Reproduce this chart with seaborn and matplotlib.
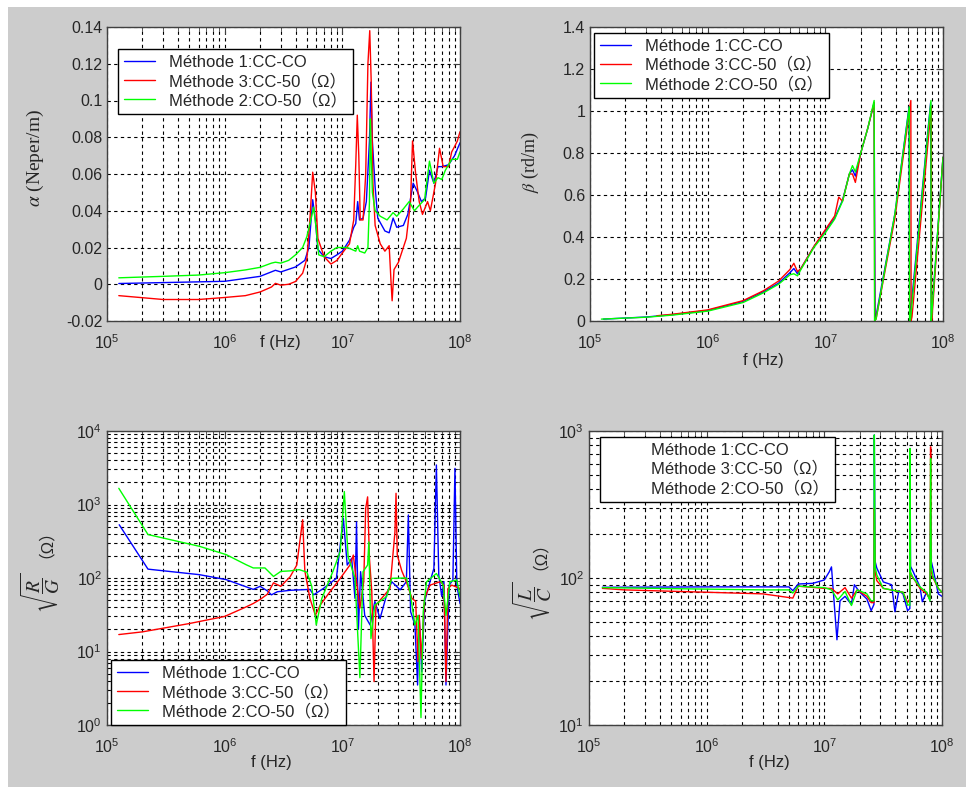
import numpy as np
import pandas as pd
import seaborn as sns
import matplotlib.pyplot as plt
from matplotlib.patches import Rectangle
from matplotlib.ticker import FuncFormatter, LogLocator, MultipleLocator

# method names (legend order)
m1 = "Méthode 1:CC-CO"
m3 = "Méthode 3:CC-50（Ω）"
m2 = "Méthode 2:CO-50（Ω）"
methods = [m1, m3, m2]
colors = {m1: "#0000ff", m3: "#ff0000", m2: "#00ff00"}

# ---- alpha (Neper/m) ----
alpha_f_m1 = [1.26e5, 1e6, 2e6, 2.7e6, 3e6, 4e6, 4.8e6, 5.2e6, 5.6e6, 5.9e6, 6.2e6, 7e6, 8e6, 9e6, 1e7,
              1.15e7, 1.25e7, 1.3e7, 1.35e7, 1.4e7, 1.5e7, 1.6e7, 1.7e7, 1.75e7, 1.8e7, 1.9e7, 2e7, 2.3e7,
              2.5e7, 2.7e7, 2.9e7, 3.3e7, 3.6e7, 4e7, 4.3e7, 4.7e7, 5.1e7, 5.5e7, 6e7, 6.5e7, 7e7, 8e7,
              9e7, 1e8]
alpha_v_m1 = [0.0004, 0.0016, 0.0043, 0.0076, 0.0067, 0.0094, 0.013, 0.020, 0.046, 0.035, 0.019, 0.015,
              0.014, 0.016, 0.018, 0.024, 0.031, 0.033, 0.045, 0.035, 0.036, 0.045, 0.078, 0.110, 0.078,
              0.053, 0.036, 0.029, 0.028, 0.036, 0.031, 0.032, 0.038, 0.055, 0.051, 0.045, 0.047, 0.062,
              0.055, 0.064, 0.064, 0.065, 0.070, 0.077]
alpha_f_m3 = [1.26e5, 3e5, 6e5, 1e6, 1.5e6, 2e6, 2.5e6, 2.7e6, 3e6, 3.5e6, 4e6, 4.6e6, 5e6, 5.3e6, 5.6e6,
              5.9e6, 6.2e6, 7e6, 8e6, 9e6, 1e7, 1.15e7, 1.25e7, 1.3e7, 1.34e7, 1.38e7, 1.42e7, 1.5e7,
              1.58e7, 1.65e7, 1.71e7, 1.76e7, 1.82e7, 1.9e7, 2.1e7, 2.3e7, 2.5e7, 2.6e7, 2.65e7, 2.75e7,
              3e7, 3.5e7, 3.8e7, 3.95e7, 4.2e7, 4.5e7, 4.8e7, 5.3e7, 5.6e7, 6.2e7, 6.7e7, 7.2e7, 8e7,
              8.5e7, 9e7, 9.5e7, 1e8]
alpha_v_m3 = [-0.0062, -0.0083, -0.0083, -0.0072, -0.0062, -0.0042, -0.0015, 0.0005, -0.0005, 0.0,
              0.0015, 0.006, 0.014, 0.035, 0.061, 0.050, 0.025, 0.015, 0.011, 0.013, 0.017, 0.022, 0.035,
              0.065, 0.092, 0.070, 0.035, 0.035, 0.060, 0.120, 0.138, 0.110, 0.055, 0.032, 0.022, 0.018,
              0.021, 0.0, -0.009, 0.008, 0.012, 0.025, 0.045, 0.078, 0.060, 0.045, 0.038, 0.045, 0.040,
              0.055, 0.074, 0.064, 0.064, 0.072, 0.075, 0.078, 0.083]
alpha_f_m2 = [1.26e5, 3e5, 6e5, 1e6, 1.5e6, 2e6, 2.5e6, 2.7e6, 3e6, 3.5e6, 4e6, 4.6e6, 5e6, 5.4e6, 5.7e6,
              6e6, 6.3e6, 7e6, 8e6, 9e6, 1e7, 1.1e7, 1.2e7, 1.3e7, 1.35e7, 1.4e7, 1.55e7, 1.65e7, 1.7e7,
              1.73e7, 1.76e7, 1.8e7, 1.9e7, 2.1e7, 2.4e7, 2.7e7, 2.9e7, 3.3e7, 3.7e7, 4.1e7, 4.5e7, 5e7,
              5.5e7, 6e7, 6.5e7, 7e7, 7.5e7, 8e7, 8.5e7, 9.5e7, 1e8]
alpha_v_m2 = [0.0035, 0.0043, 0.005, 0.0063, 0.0078, 0.0092, 0.0115, 0.012, 0.0115, 0.013, 0.016, 0.020,
              0.026, 0.035, 0.042, 0.030, 0.016, 0.015, 0.018, 0.020, 0.020, 0.020, 0.019, 0.018, 0.021,
              0.018, 0.017, 0.020, 0.045, 0.090, 0.070, 0.050, 0.040, 0.037, 0.035, 0.039, 0.037, 0.041,
              0.045, 0.040, 0.043, 0.046, 0.067, 0.055, 0.058, 0.057, 0.062, 0.065, 0.068, 0.068, 0.072]

# ---- beta (rd/m) ----
beta_f_m1 = [1.3e5, 3e5, 5e5, 1e6, 2e6, 3e6, 4e6, 5e6, 5.4e6, 5.8e6, 6.2e6, 7e6, 8e6, 1e7, 1.2e7, 1.4e7,
             1.6e7, 1.7e7, 1.8e7, 2e7, 2.3e7, 2.6e7, 2.62e7, 2.65e7, 3.9e7, 5.15e7, 5.18e7, 5.22e7, 7.85e7,
             7.9e7, 7.95e7, 1e8]
beta_v_m1 = [0.009, 0.019, 0.03, 0.05, 0.093, 0.14, 0.18, 0.23, 0.25, 0.225, 0.25, 0.30, 0.354, 0.43,
             0.49, 0.575, 0.70, 0.72, 0.69, 0.80, 0.92, 1.04, 0.52, 0.0, 0.51, 1.02, 0.52, 0.0, 1.04, 0.52,
             0.0, 0.78]
beta_f_m3 = [3.7e5, 5e5, 1e6, 2e6, 3e6, 4e6, 5e6, 5.4e6, 5.8e6, 6.2e6, 7e6, 8e6, 1e7, 1.2e7, 1.3e7, 1.4e7,
             1.6e7, 1.7e7, 1.8e7, 2e7, 2.3e7, 2.6e7, 2.63e7, 2.7e7, 3.9e7, 5.33e7, 5.36e7, 5.45e7, 7.95e7,
             8.0e7, 8.1e7, 1e8]
beta_v_m3 = [0.025, 0.032, 0.053, 0.097, 0.145, 0.19, 0.245, 0.275, 0.235, 0.25, 0.30, 0.355, 0.435,
             0.50, 0.59, 0.57, 0.70, 0.70, 0.66, 0.80, 0.92, 1.04, 0.0, 0.01, 0.49, 1.05, 0.0, 0.02, 1.02,
             0.0, 0.03, 0.78]
beta_f_m2 = [1.25e5, 3e5, 5e5, 1e6, 2e6, 3e6, 4e6, 5e6, 5.4e6, 5.8e6, 6.2e6, 7e6, 8e6, 1e7, 1.2e7, 1.4e7,
             1.6e7, 1.7e7, 1.8e7, 2e7, 2.3e7, 2.6e7, 2.62e7, 2.7e7, 3.9e7, 5.17e7, 5.2e7, 5.3e7, 7.9e7,
             7.92e7, 8.0e7, 1e8]
beta_v_m2 = [0.009, 0.018, 0.028, 0.047, 0.088, 0.135, 0.175, 0.22, 0.225, 0.215, 0.245, 0.295, 0.35,
             0.42, 0.485, 0.57, 0.70, 0.74, 0.71, 0.80, 0.92, 1.05, 0.0, 0.01, 0.51, 1.02, 0.0, 0.01, 1.05,
             0.0, 0.02, 0.78]

# ---- sqrt(R/G) (Ohm) ----
rg_f_m1 = [1.27e5, 2.23e5, 6.1e5, 1.03e6, 1.75e6, 2e6, 2.3e6, 2.5e6, 2.8e6, 3.6e6, 5.3e6, 5.7e6, 6.9e6,
           8.9e6, 1.02e7, 1.1e7, 1.2e7, 1.28e7, 1.32e7, 1.37e7, 1.43e7, 1.55e7, 1.72e7, 1.89e7, 2.09e7,
           2.38e7, 2.63e7, 3.1e7, 3.5e7, 3.64e7, 3.8e7, 4.14e7, 4.36e7, 4.5e7, 4.73e7, 5.0e7, 5.56e7, 6.0e7,
           6.3e7, 6.6e7, 7.0e7, 7.3e7, 7.6e7, 8.1e7, 8.7e7, 9.06e7, 9.4e7, 1e8]
rg_v_m1 = [530, 132, 111, 95, 70, 77, 67, 59, 65, 68, 70, 59, 72, 99, 650, 150, 185, 53, 580, 20, 122, 31,
           23, 48, 28, 59, 89, 69, 89, 720, 35, 23, 3.5, 31, 5.3, 48, 89, 135, 3450, 110, 56, 89, 3.5, 80,
           94, 3100, 80, 45]
rg_f_m3 = [1.26e5, 2e5, 5e5, 1e6, 1.5e6, 1.75e6, 2e6, 2.3e6, 2.6e6, 3e6, 3.6e6, 4.1e6, 4.6e6, 4.8e6,
           5.3e6, 5.9e6, 6.5e6, 7.85e6, 9.6e6, 1.16e7, 1.24e7, 1.32e7, 1.41e7, 1.52e7, 1.58e7, 1.64e7,
           1.7e7, 1.78e7, 1.86e7, 1.93e7, 2.16e7, 2.54e7, 2.8e7, 2.86e7, 2.93e7, 3.2e7, 3.5e7, 3.9e7,
           4.2e7, 4.4e7, 4.5e7, 4.7e7, 5.0e7, 5.56e7, 6.8e7, 7.3e7, 7.6e7, 7.9e7, 8.5e7, 1e8]
rg_v_m3 = [17, 18.5, 24, 30, 40, 45, 51, 60, 86, 77, 104, 150, 620, 125, 53, 31, 43, 65, 99, 150, 205, 89,
           39, 89, 890, 1270, 185, 65, 3.9, 43, 53, 72, 425, 1420, 205, 125, 89, 53, 48, 7.3, 31, 8, 53, 80,
           89, 80, 3.9, 72, 80, 72]
rg_f_m2 = [1.26e5, 2.23e5, 6.1e5, 1.03e6, 1.53e6, 1.75e6, 2.2e6, 2.6e6, 3e6, 3.6e6, 4.3e6, 5e6, 5.5e6,
           6.0e6, 6.7e6, 8.3e6, 9.6e6, 1.04e7, 1.12e7, 1.28e7, 1.41e7, 1.5e7, 1.64e7, 1.68e7, 1.75e7,
           1.89e7, 2.38e7, 2.63e7, 3.5e7, 3.76e7, 4.14e7, 4.4e7, 4.66e7, 4.87e7, 5.2e7, 6.3e7, 7.2e7,
           7.6e7, 8.2e7, 9.4e7, 1e8]
rg_v_m2 = [1660, 390, 270, 208, 151, 137, 137, 105, 123, 125, 130, 120, 77, 23, 53, 122, 230, 1500, 195,
           100, 4.4, 122, 150, 310, 15, 43, 56, 99, 100, 65, 23, 31, 1.26, 35, 89, 115, 80, 31, 89, 94, 56]

# ---- sqrt(L/C) (Ohm) ----
lc_f_m1 = [1.3e5, 1e6, 5e6, 5.4e6, 6e6, 8e6, 1e7, 1.1e7, 1.15e7, 1.28e7, 1.36e7, 1.5e7, 1.7e7, 1.8e7, 2e7,
           2.3e7, 2.5e7, 2.64e7, 2.66e7, 2.7e7, 2.79e7, 3.17e7, 3.73e7, 3.98e7, 4.3e7, 4.66e7, 5.1e7,
           5.33e7, 5.35e7, 5.4e7, 5.7e7, 6.5e7, 6.8e7, 7.4e7, 7.9e7, 8.0e7, 8.1e7, 8.4e7, 9.3e7, 1e8]
lc_v_m1 = [86.5, 87, 87, 82, 91, 92, 97, 110, 119, 38, 70, 75, 66, 90, 80, 72, 60, 66, 940, 130, 117, 94,
           90, 59, 82, 78, 60, 62, 760, 120, 110, 87, 69, 80, 71, 275, 130, 115, 78, 75]
lc_f_m3 = [1.3e5, 2e5, 1e6, 3e6, 5.4e6, 6e6, 1e7, 1.15e7, 1.3e7, 1.5e7, 1.7e7, 1.9e7, 2.3e7, 2.5e7,
           2.64e7, 2.66e7, 2.7e7, 2.79e7, 3.17e7, 3.98e7, 4.66e7, 5.1e7, 5.33e7, 5.35e7, 5.4e7, 5.7e7,
           6.5e7, 7.4e7, 7.9e7, 8.0e7, 8.1e7, 8.4e7, 9.3e7, 1e8]
lc_v_m3 = [85, 83, 80, 78, 73, 88, 85, 85, 78, 86, 73, 83, 75, 68, 68, 297, 110, 96, 85, 82, 80, 68, 72,
           119, 105, 100, 85, 78, 72, 780, 110, 100, 85, 80]
lc_f_m2 = [1.3e5, 1e6, 3e6, 5e6, 5.4e6, 6e6, 1e7, 1.15e7, 1.3e7, 1.5e7, 1.7e7, 1.9e7, 2.3e7, 2.5e7,
           2.64e7, 2.66e7, 2.7e7, 2.79e7, 3.17e7, 3.98e7, 4.66e7, 5.1e7, 5.33e7, 5.35e7, 5.4e7, 5.7e7,
           6.5e7, 7.4e7, 7.9e7, 8.0e7, 8.1e7, 8.4e7, 9.3e7, 1e8]
lc_v_m2 = [86, 84, 83, 83, 79, 88, 86, 83, 71, 81, 65, 83, 78, 70, 70, 940, 120, 105, 85, 82, 80, 66, 65,
           760, 110, 100, 87, 80, 70, 650, 120, 102, 85, 80]


def long_df(pairs):
    frames = []
    for name, f, v in pairs:
        frames.append(pd.DataFrame({"f": f, "v": v, "method": name}))
    return pd.concat(frames, ignore_index=True)


sns.set_style("white")
plt.rcParams["font.family"] = ["Liberation Sans", "Noto Sans CJK SC", "DejaVu Sans"]
plt.rcParams["mathtext.fontset"] = "stix"
plt.rcParams["axes.unicode_minus"] = False

TXT = "#262626"
fig = plt.figure(figsize=(9.66, 7.87), dpi=100, facecolor="white")
fig.patches.append(Rectangle((8 / 966, 0), 1, 780 / 787, transform=fig.transFigure,
                             facecolor="#cccccc", edgecolor="none", zorder=-10))

W, H = 353 / 966, 294 / 787
ax_a = fig.add_axes([107 / 966, 466 / 787, W, H])
ax_b = fig.add_axes([590 / 966, 466 / 787, W, H])
ax_rg = fig.add_axes([107 / 966, 62 / 787, W, H])
ax_lc = fig.add_axes([589 / 966, 62 / 787, W, H])

panels = [
    (ax_a, long_df([(m1, alpha_f_m1, alpha_v_m1), (m3, alpha_f_m3, alpha_v_m3), (m2, alpha_f_m2, alpha_v_m2)])),
    (ax_b, long_df([(m1, beta_f_m1, beta_v_m1), (m3, beta_f_m3, beta_v_m3), (m2, beta_f_m2, beta_v_m2)])),
    (ax_rg, long_df([(m1, rg_f_m1, rg_v_m1), (m3, rg_f_m3, rg_v_m3), (m2, rg_f_m2, rg_v_m2)])),
    (ax_lc, long_df([(m1, lc_f_m1, lc_v_m1), (m3, lc_f_m3, lc_v_m3), (m2, lc_f_m2, lc_v_m2)])),
]

for ax, df in panels:
    sns.lineplot(data=df, x="f", y="v", hue="method", hue_order=methods, palette=colors,
                 estimator=None, sort=False, lw=1.0, ax=ax)
    ax.set_xscale("log")
    ax.set_xlim(1e5, 1e8)
    ax.set_facecolor("white")
    for s in ax.spines.values():
        s.set_color("#404040")
        s.set_linewidth(1.0)
    ax.grid(True, which="both", axis="x", color="black", linestyle=(0, (3, 3)), lw=0.8)
    ax.tick_params(which="both", direction="in", top=True, right=True, colors="#404040",
                   labelcolor=TXT, labelsize=11.5)
    ax.tick_params(which="major", length=5)
    ax.tick_params(which="minor", length=3)
    ax.tick_params(axis="x", which="major", pad=9)
    ax.xaxis.set_major_locator(LogLocator(base=10, numticks=10))
    ax.xaxis.set_minor_locator(LogLocator(base=10, subs=np.arange(2, 10), numticks=10))
    ax.set_xlabel("f (Hz)", fontsize=12, color=TXT, va="center")
    ax.set_ylabel("")

# linear panels
ax_a.set_ylim(-0.02, 0.14)
ax_a.yaxis.set_major_locator(MultipleLocator(0.02))
ax_b.set_ylim(0, 1.4)
ax_b.yaxis.set_major_locator(MultipleLocator(0.2))
for ax in (ax_a, ax_b):
    ax.yaxis.set_major_formatter(FuncFormatter(lambda v, p: "%g" % round(v, 4)))
    ax.grid(True, which="major", axis="y", color="black", linestyle=(0, (3, 3)), lw=0.8)

# log panels
ax_rg.set_yscale("log")
ax_rg.set_ylim(1, 1e4)
ax_lc.set_yscale("log")
ax_lc.set_ylim(10, 1e3)
for ax in (ax_rg, ax_lc):
    ax.yaxis.set_major_locator(LogLocator(base=10, numticks=10))
    ax.yaxis.set_minor_locator(LogLocator(base=10, subs=np.arange(2, 10), numticks=10))
    ax.grid(True, which="both", axis="y", color="black", linestyle=(0, (3, 3)), lw=0.8)

# axis labels
ax_a.xaxis.set_label_coords(0.49, -0.073)
ax_b.xaxis.set_label_coords(0.49, -0.133)
ax_rg.xaxis.set_label_coords(0.465, -0.126)
ax_lc.xaxis.set_label_coords(0.51, -0.126)

ax_a.set_ylabel(r"$\alpha$ (Neper/m)", fontsize=14, color=TXT, family="Liberation Serif", va="center")
ax_a.yaxis.set_label_coords(-0.204, 0.554)
ax_b.set_ylabel(r"$\beta$ (rd/m)", fontsize=13, color=TXT, family="Liberation Serif", va="center")
ax_b.yaxis.set_label_coords(-0.17, 0.54)
ax_rg.set_ylabel(r"$\sqrt{\dfrac{R}{G}}$", fontsize=14, color=TXT, va="center")
ax_rg.yaxis.set_label_coords(-0.19, 0.45)
ax_rg.text(-0.198, 0.645, "（Ω）", transform=ax_rg.transAxes, rotation=90, ha="center", va="center",
           fontsize=12, color=TXT)
ax_lc.set_ylabel(r"$\sqrt{\dfrac{L}{C}}$", fontsize=14, color=TXT, va="center")
ax_lc.yaxis.set_label_coords(-0.16, 0.42)
ax_lc.text(-0.164, 0.605, "（Ω）", transform=ax_lc.transAxes, rotation=90, ha="center", va="center",
           fontsize=12, color=TXT)

# legends
leg_kw = dict(fontsize=12, frameon=True, fancybox=False, edgecolor="black", framealpha=1,
              borderaxespad=0, handlelength=1.9, handletextpad=0.8, labelspacing=0.2,
              borderpad=0.35, title=None)
legs = [
    (ax_a, "upper left", (0.031, 0.925)),
    (ax_b, "upper left", (0.011, 0.98)),
    (ax_rg, "lower left", (0.011, 0.0)),
    (ax_lc, "upper left", (0.031, 0.98)),
]
for ax, loc, anchor in legs:
    handles, labels = ax.get_legend_handles_labels()
    leg = ax.legend(handles, labels, loc=loc, bbox_to_anchor=anchor, **leg_kw)
    leg.get_frame().set_linewidth(1.0)
    for t in leg.get_texts():
        t.set_color(TXT)
    if ax is ax_lc:
        for h in leg.legend_handles:
            h.set_visible(False)

fig.savefig("out.png", dpi=100, facecolor=fig.get_facecolor())
